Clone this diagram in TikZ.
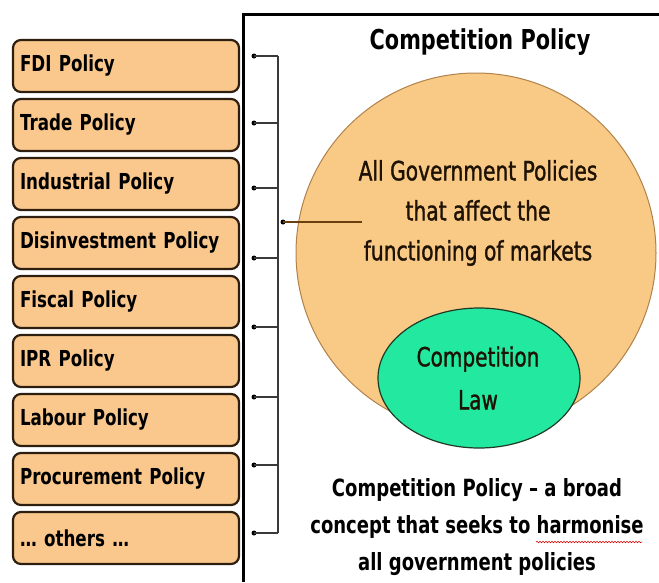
\documentclass[tikz,border=0pt]{standalone}
\usepackage{fontspec}
\setmainfont{DejaVu Sans}[FakeStretch=0.76]
\newfontfamily\medfont{DejaVu Sans}[FakeStretch=0.76, FakeBold=1.2]
\usetikzlibrary{decorations.pathmorphing}
\definecolor{boxfill}{HTML}{FAC88C}
\definecolor{boxline}{HTML}{2E1E10}
\definecolor{circfill}{HTML}{F9C986}
\definecolor{circline}{HTML}{B0824A}
\definecolor{lawfill}{HTML}{22E8A0}
\definecolor{lawline}{HTML}{1F3A25}
\definecolor{ticks}{HTML}{3A3A3A}
\definecolor{brown}{HTML}{6A4010}
\definecolor{ctext}{HTML}{1E1204}
\tikzset{
  pbox/.style={draw=boxline, line width=2.2pt, fill=boxfill, rounded corners=8pt,
    minimum width=226pt, minimum height=52pt, text width=212pt, align=left,
    inner xsep=7pt, inner ysep=0pt,
    font=\bfseries\fontsize{22}{26}\selectfont},
  tick/.style={draw=ticks, line width=1.5pt},
  tdot/.style={circle, fill=black, inner sep=0pt, minimum size=5pt},
  bigtext/.style={align=center, text=ctext, font=\medfont\fontsize{26.6}{40}\selectfont},
}
\begin{document}
\begin{tikzpicture}[x=1pt,y=-1pt]
\useasboundingbox (0,0) rectangle (659,582);
% frame
\draw[line width=3pt] (243,582) -- (243,14) -- (659,14);
% title
\node[font=\bfseries\fontsize{27.4}{32}\selectfont] (title) at (480,42) {Competition Policy};
% big circle
\draw[fill=circfill, draw=circline, line width=1pt] (476,253) circle[radius=180];
\node[bigtext] (gov) at (478,213) {All Government Policies\\that affect the\\functioning of markets};
% competition law ellipse
\draw[fill=lawfill, draw=lawline, line width=1.2pt] (479,378) ellipse[x radius=101, y radius=70];
\node[bigtext, font=\medfont\fontsize{26.4}{43}\selectfont] (law) at (478,378) {Competition\\Law};
% bottom text
\node[align=center, font=\bfseries\fontsize{23.7}{37}\selectfont] (bot) at (477,527)
  {Competition Policy -- a broad\\concept that seeks to harmonise\\all government policies};
\coordinate (u1) at (536,542);
\coordinate (u2) at (642,542);
\draw[red!85!black, line width=0.6pt, decorate, decoration={snake, amplitude=0.7pt, segment length=3pt}] (u1) -- (u2);
% policy boxes
\node[pbox] (p1) at (126,66) {FDI Policy};
\node[pbox] (p2) at (126,125) {Trade Policy};
\node[pbox] (p3) at (126,184) {Industrial Policy};
\node[pbox] (p4) at (126,243) {Disinvestment Policy};
\node[pbox] (p5) at (126,302) {Fiscal Policy};
\node[pbox] (p6) at (126,361) {IPR Policy};
\node[pbox] (p7) at (126,420) {Labour Policy};
\node[pbox] (p8) at (126,479) {Procurement Policy};
\node[pbox] (p9) at (126,538) {… others …};
% bracket
\foreach \i/\y in {1/56,2/123,3/188,4/258,5/327,6/397,7/465,8/533}{
  \node[tdot] (d\i) at (254,\y) {};
  \coordinate (b\i) at (278,\y);
  \draw[tick] (d\i.center) -- (b\i);
}
\draw[tick] (b1) -- (b8);
\node[tdot] (m0) at (283,222) {};
\coordinate (m1) at (362,222);
\draw[draw=brown, line width=1.4pt] (m0.center) -- (m1);
\end{tikzpicture}
\end{document}
